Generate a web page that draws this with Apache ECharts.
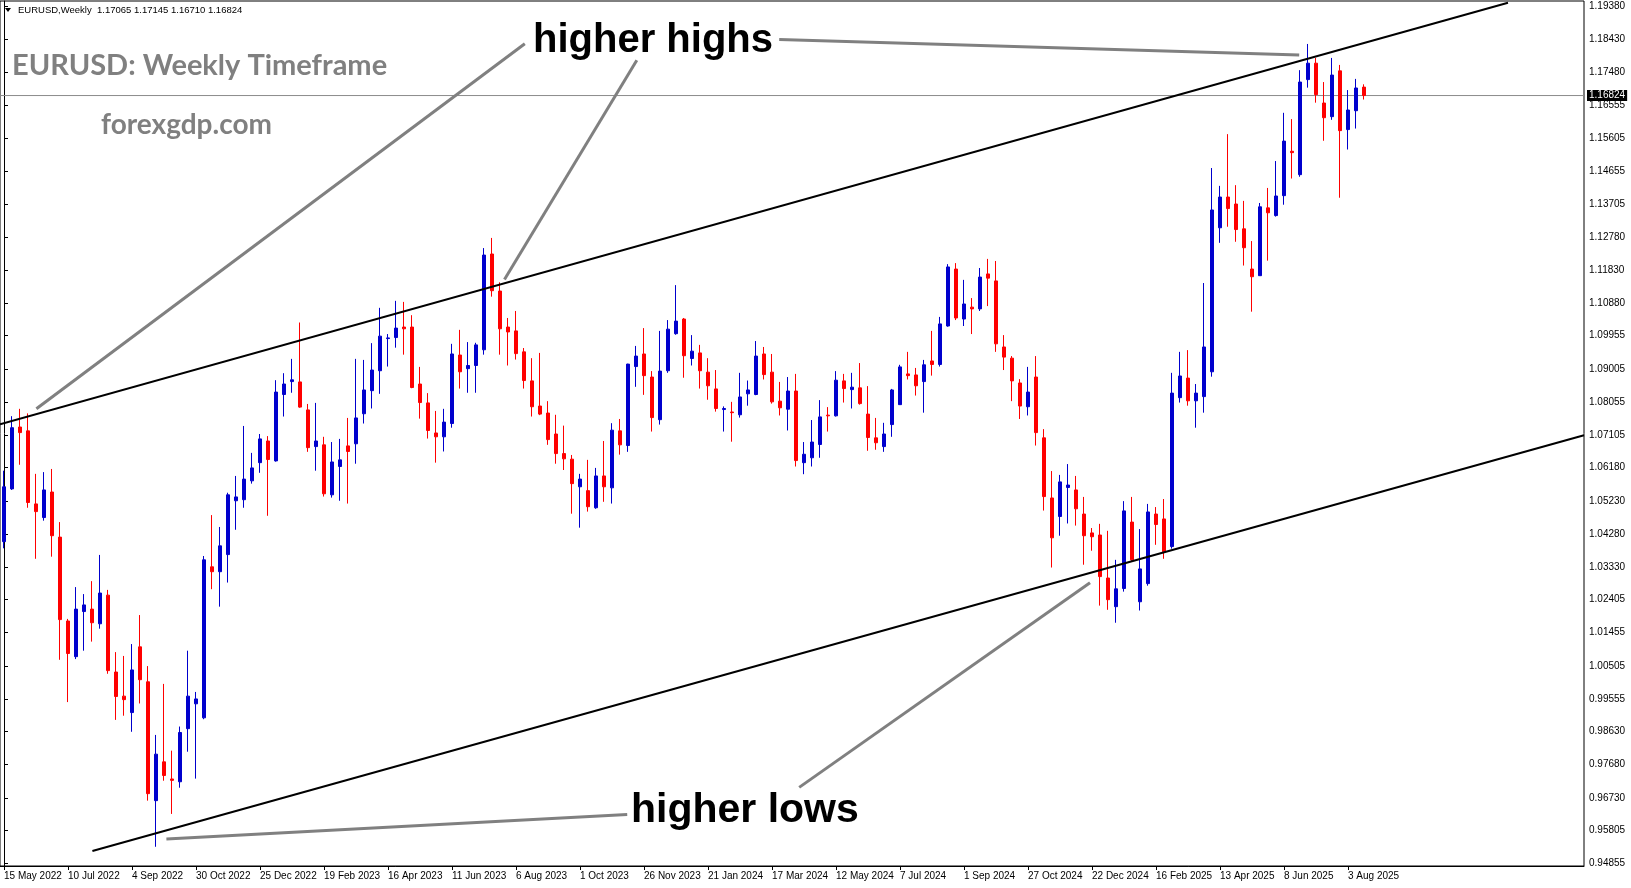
<!DOCTYPE html>
<html>
<head>
<meta charset="utf-8">
<script src="https://cdn.jsdelivr.net/npm/echarts@6/dist/echarts.min.js"></script>
<style>
html,body{margin:0;padding:0;background:#fff;}
#chart{width:1631px;height:888px;}
</style>
</head>
<body>
<div id="chart"></div>
<script>
// ---- Data (EURUSD weekly) ----
const opens = [1.0406,1.0557,1.0734,1.0723,1.0514,1.0475,1.0548,1.0419,1.0179,1.0077,
1.0206,1.0213,1.0171,1.0253,1.0033,0.9964,0.9917,1.0105,1.0005,0.9665,
0.9776,0.9727,0.9719,0.9871,0.9942,0.9902,1.0334,1.0320,1.0369,1.0523,
1.0526,1.0580,1.0632,1.0694,1.0637,1.0827,1.0864,1.0863,1.0783,1.0678,
1.0683,1.0540,1.0621,1.0680,1.0686,1.0772,1.0838,1.0895,1.0987,1.0990,
1.1020,1.1020,1.0857,1.0803,1.0717,1.0706,1.0744,1.0940,1.0901,1.0910,
1.0955,1.1229,1.1123,1.1020,1.1009,1.0949,1.0866,1.0794,1.0774,1.0714,
1.0658,1.0642,1.0563,1.0552,1.0503,1.0594,1.0560,1.0723,1.0681,1.0907,
1.0943,1.0877,1.0755,1.0895,1.1001,1.1043,1.0930,1.0946,1.0891,1.0843,
1.0784,1.0777,1.0769,1.0829,1.0827,1.0943,1.0891,1.0808,1.0785,1.0837,
1.0632,1.0646,1.0684,1.0768,1.0766,1.0866,1.0841,1.0846,1.0771,1.0703,
1.0678,1.0741,1.0798,1.0886,1.0883,1.0864,1.0923,1.0913,1.1023,1.1186,
1.1043,1.1077,1.1072,1.1172,1.1152,1.0963,1.0931,1.0860,1.0792,1.0877,
1.0703,1.0531,1.0478,1.0561,1.0554,1.0485,1.0431,1.0425,1.0302,1.0220,
1.0272,1.0462,1.0234,1.0286,1.0485,1.0471,1.0392,1.0818,1.0874,1.0809,
1.0821,1.0892,1.1304,1.1392,1.1372,1.1301,1.1186,1.1167,1.1361,1.1339,
1.1396,1.1523,1.1456,1.1728,1.1775,1.1661,1.1622,1.1753,1.1585,1.1639,
1.17065];
const highs = [1.0609,1.0765,1.0786,1.0773,1.0600,1.0605,1.0614,1.0462,1.0185,1.0276,
1.0256,1.0293,1.0368,1.0268,1.0090,1.0079,1.0113,1.0196,1.0050,0.9853,
0.9999,0.9808,0.9877,1.0094,0.9976,1.0365,1.0482,1.0448,1.0546,1.0594,
1.0737,1.0660,1.0714,1.0708,1.0868,1.0888,1.0929,1.1033,1.0800,1.0803,
1.0706,1.0691,1.0700,1.0760,1.0929,1.0926,1.0974,1.1075,1.1000,1.1095,
1.1092,1.1054,1.0906,1.0831,1.0780,1.0786,1.0972,1.1012,1.0977,1.0975,
1.1246,1.1275,1.1148,1.1046,1.1066,1.0960,1.0931,1.0946,1.0808,1.0769,
1.0738,1.0654,1.0600,1.0640,1.0617,1.0694,1.0745,1.0757,1.0915,1.0966,
1.1017,1.0894,1.1009,1.1040,1.1140,1.1046,1.0997,1.0969,1.0931,1.0897,
1.0793,1.0806,1.0889,1.0867,1.0980,1.0963,1.0943,1.0863,1.0877,1.0886,
1.0691,1.0754,1.0811,1.0791,1.0894,1.0886,1.0889,1.0917,1.0851,1.0760,
1.0746,1.0843,1.0912,1.0949,1.0903,1.0926,1.1009,1.1049,1.1200,1.1203,
1.1155,1.1103,1.1189,1.1215,1.1209,1.0997,1.0937,1.0871,1.0906,1.0937,
1.0728,1.0608,1.0597,1.0628,1.0594,1.0534,1.0445,1.0457,1.0437,1.0354,
1.0522,1.0534,1.0442,1.0514,1.0505,1.0528,1.0889,1.0949,1.0954,1.0857,
1.1146,1.1475,1.1424,1.1572,1.1426,1.1381,1.1266,1.1375,1.1418,1.1495,
1.1633,1.1615,1.1755,1.1830,1.1790,1.1721,1.1790,1.1770,1.1698,1.1730,
1.17145];
const lows = [1.0387,1.0554,1.0626,1.0503,1.0357,1.0466,1.0363,1.0068,0.9947,1.0070,
1.0094,1.0120,1.0157,1.0028,0.9896,0.9908,0.9862,0.9943,0.9665,0.9533,
0.9722,0.9627,0.9702,0.9805,0.9728,0.9898,1.0270,1.0220,1.0289,1.0440,
1.0503,1.0572,1.0603,1.0480,1.0635,1.0764,1.0832,1.0789,1.0663,1.0609,
1.0535,1.0532,1.0523,1.0515,1.0629,1.0744,1.0787,1.0829,1.0907,1.0961,
1.0941,1.0845,1.0758,1.0701,1.0632,1.0664,1.0732,1.0844,1.0832,1.0832,
1.0941,1.1107,1.0941,1.0910,1.0927,1.0844,1.0764,1.0768,1.0683,1.0629,
1.0611,1.0486,1.0446,1.0492,1.0500,1.0520,1.0515,1.0655,1.0663,1.0849,
1.0826,1.0721,1.0741,1.0889,1.0998,1.0875,1.0910,1.0844,1.0812,1.0778,
1.0721,1.0692,1.0761,1.0795,1.0825,1.0870,1.0801,1.0767,1.0724,1.0621,
1.0599,1.0621,1.0646,1.0721,1.0764,1.0804,1.0787,1.0798,1.0666,1.0669,
1.0663,1.0706,1.0798,1.0870,1.0824,1.0775,1.0881,1.0907,1.1021,1.1040,
1.1023,1.1000,1.1066,1.1080,1.0949,1.0897,1.0808,1.0757,1.0767,1.0681,
1.0495,1.0332,1.0423,1.0458,1.0452,1.0340,1.0380,1.0223,1.0211,1.0174,
1.0263,1.0351,1.0209,1.0280,1.0397,1.0357,1.0386,1.0804,1.0795,1.0732,
1.0775,1.0878,1.1261,1.1307,1.1264,1.1196,1.1064,1.1167,1.1210,1.1336,
1.1370,1.1445,1.1450,1.1705,1.1662,1.1553,1.1613,1.1390,1.1528,1.1588,
1.16710];
const closes = [1.0563,1.0732,1.0718,1.0518,1.0492,1.0554,1.0423,1.0183,1.0086,1.0213,
1.0225,1.0174,1.0259,1.0037,0.9963,0.9954,1.0039,1.0011,0.9685,0.9798,
0.9737,0.9723,0.9860,0.9964,0.9956,1.0354,1.0320,1.0394,1.0540,1.0534,
1.0585,1.0617,1.0700,1.0641,1.0834,1.0857,1.0869,1.0791,1.0675,1.0694,
1.0543,1.0634,1.0640,1.0664,1.0760,1.0840,1.0897,1.0994,1.0989,1.1017,
1.1015,1.0847,1.0804,1.0724,1.0706,1.0748,1.0943,1.0892,1.0910,1.0969,
1.1226,1.1124,1.1015,1.1006,1.0944,1.0867,1.0792,1.0771,1.0698,1.0658,
1.0643,1.0572,1.0585,1.0506,1.0594,1.0563,1.0725,1.0683,1.0914,1.0937,
1.0881,1.0761,1.0894,1.1014,1.1037,1.0938,1.0951,1.0895,1.0852,1.0787,
1.0787,1.0775,1.0820,1.0840,1.0937,1.0884,1.0806,1.0789,1.0837,1.0638,
1.0656,1.0691,1.0763,1.0766,1.0868,1.0844,1.0848,1.0801,1.0704,1.0689,
1.0714,1.0840,1.0906,1.0881,1.0852,1.0912,1.0913,1.1029,1.1192,1.1046,
1.1086,1.1072,1.1163,1.1160,1.0972,1.0934,1.0866,1.0794,1.0834,1.0718,
1.0535,1.0417,1.0577,1.0568,1.0500,1.0423,1.0420,1.0306,1.0240,1.0271,
1.0494,1.0354,1.0328,1.0491,1.0455,1.0377,1.0831,1.0880,1.0809,1.0831,
1.0963,1.1355,1.1392,1.1359,1.1299,1.1247,1.1164,1.1364,1.1347,1.1395,
1.1552,1.1519,1.1721,1.1775,1.1685,1.1619,1.1741,1.1582,1.1641,1.1704,
1.16824];

const lastPrice = 1.16824;
const yTickLabels = [1.19380,1.18430,1.17480,1.16555,1.15605,1.14655,1.13705,1.12780,1.11830,
1.10880,1.09955,1.09005,1.08055,1.07105,1.06180,1.05230,1.04280,1.03330,1.02405,1.01455,
1.00505,0.99555,0.98630,0.97680,0.96730,0.95805,0.94855];

// channel lines: [bar index, price]
const upperChannel = [[-0.5, 1.07417], [188, 1.19481]];
const lowerChannel = [[11.05, 0.95210], [197.5, 1.07103]];
// pointer lines from the annotations: [bar index, price]
const pointers = [
  [[65.1, 1.18307], [4.05, 1.07861]],
  [[79.1, 1.17832], [62.56, 1.11561]],
  [[96.9, 1.18427], [161.9, 1.17984]],
  [[77.9, 0.96254], [20.3, 0.95553]],
  [[99.4, 0.97029], [135.75, 1.02883]]
];

// ---- Categories (weekly bars starting 15 May 2022) ----
const MONTHS = ['Jan','Feb','Mar','Apr','May','Jun','Jul','Aug','Sep','Oct','Nov','Dec'];
const firstWeek = Date.UTC(2022, 4, 15);
const TOTAL_SLOTS = 198;
const categories = [];
for (let i = 0; i < TOTAL_SLOTS; i++) {
  const d = new Date(firstWeek + i * 7 * 86400000);
  categories.push(d.getUTCDate() + ' ' + MONTHS[d.getUTCMonth()] + ' ' + d.getUTCFullYear());
}
const nBars = opens.length;
const candleData = opens.map((o, i) => [o, closes[i], lows[i], highs[i]]);
const showX = (idx) => idx % 8 === 0 && idx < nBars;
const priceLine = [[-0.5, lastPrice], [TOTAL_SLOTS - 0.5, lastPrice]];

const chart = echarts.init(document.getElementById('chart'), null, {renderer: 'canvas'});
const FONT = 'Liberation Sans, Arial, sans-serif';

const series = [
  {
    type: 'line', xAxisIndex: 1, yAxisIndex: 0, data: priceLine,
    symbol: 'none', lineStyle: {color: '#8c8c8c', width: 1}, clip: false, silent: true, z: 1,
    endLabel: {
      show: true, formatter: lastPrice.toFixed(5), distance: 3,
      color: '#fff', backgroundColor: '#000', fontFamily: FONT, fontSize: 10,
      padding: [1, 2, 0, 2]
    }
  },
  {
    type: 'candlestick',
    xAxisIndex: 0, yAxisIndex: 0,
    data: candleData,
    barWidth: 4, z: 2,
    itemStyle: {
      color: '#0000CD', color0: '#FF0000',
      borderColor: '#0000CD', borderColor0: '#FF0000',
      borderWidth: 1
    }
  },
  {
    type: 'line', xAxisIndex: 1, yAxisIndex: 0, data: upperChannel, z: 3,
    symbol: 'none', lineStyle: {color: '#000', width: 2}, clip: true, silent: true
  },
  {
    type: 'line', xAxisIndex: 1, yAxisIndex: 0, data: lowerChannel, z: 3,
    symbol: 'none', lineStyle: {color: '#000', width: 2}, clip: true, silent: true
  }
].concat(pointers.map(p => ({
  type: 'line', xAxisIndex: 1, yAxisIndex: 0, data: p, z: 3,
  symbol: 'none', lineStyle: {color: '#808080', width: 3}, clip: true, silent: true
})));

const option = {
  animation: false,
  backgroundColor: '#fff',
  grid: {left: 0, right: 47, top: 1, bottom: 22, show: true, borderColor: '#000', borderWidth: 1, backgroundColor: 'transparent'},
  xAxis: [
    {
      type: 'category', data: categories, boundaryGap: true,
      axisLine: {show: true, lineStyle: {color: '#000'}},
      axisTick: {show: true, alignWithLabel: true, interval: (idx) => showX(idx), length: 4, lineStyle: {color: '#000'}},
      axisLabel: {show: true, interval: (idx) => showX(idx), align: 'left', color: '#000', fontFamily: FONT, fontSize: 10, margin: 5},
      splitLine: {show: false}
    },
    {type: 'value', min: -0.5, max: TOTAL_SLOTS - 0.5, show: false}
  ],
  yAxis: [{
    type: 'value', position: 'right', min: 0.94780, max: 1.19529,
    axisLine: {show: true, lineStyle: {color: '#000'}},
    axisTick: {show: true, length: 4, customValues: yTickLabels, lineStyle: {color: '#000'}},
    axisLabel: {show: true, customValues: yTickLabels, formatter: (v) => Number(v).toFixed(5), color: '#000', fontFamily: FONT, fontSize: 10, margin: 5},
    splitLine: {show: false}
  }],
  series: series,
  graphic: [
    {type: 'polygon', shape: {points: [[5, 8], [11, 8], [8, 12]]}, style: {fill: '#000'}},
    {type: 'text', left: 18, top: 5, style: {text: 'EURUSD,Weekly  1.17065 1.17145 1.16710 1.16824', fill: '#000', font: '9.5px ' + FONT}},
    {type: 'text', left: 12, top: 51, style: {text: 'EURUSD: Weekly Timeframe', fill: '#808080', font: 'bold 29px Lato, sans-serif'}},
    {type: 'text', left: 101, top: 111, style: {text: 'forexgdp.com', fill: '#808080', font: 'bold 28px Lato, sans-serif'}},
    {type: 'text', left: 533, top: 21, style: {text: 'higher highs', fill: '#000', font: 'bold 40px ' + FONT}},
    {type: 'text', left: 631, top: 790, style: {text: 'higher lows', fill: '#000', font: 'bold 41px ' + FONT}}
  ]
};
chart.setOption(option);
</script>
</body>
</html>
